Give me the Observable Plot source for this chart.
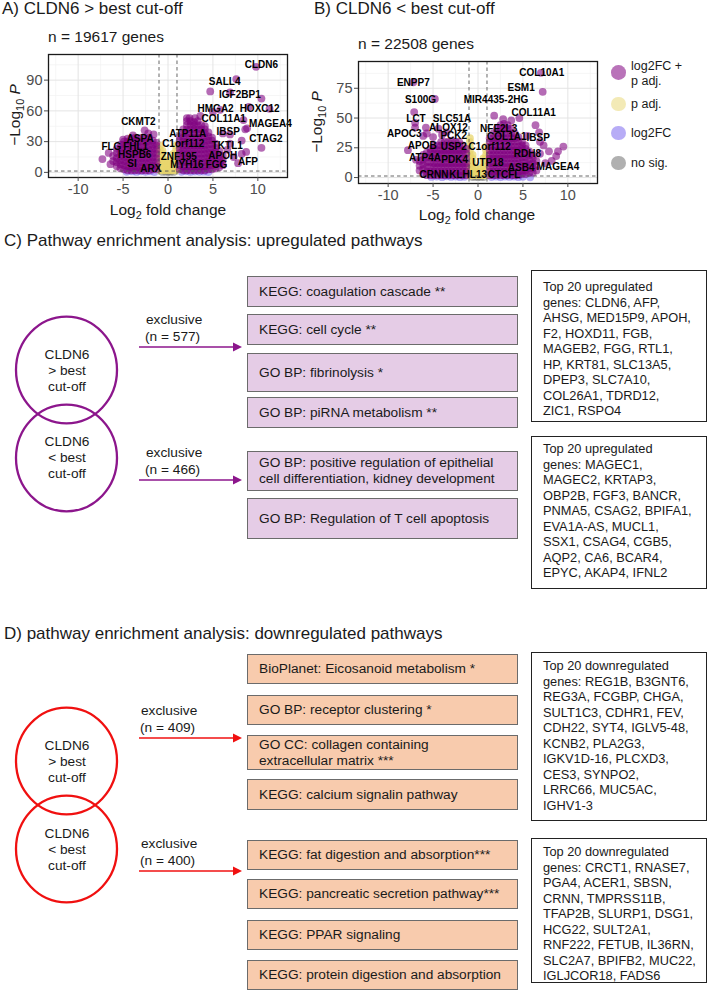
<!DOCTYPE html>
<html><head><meta charset="utf-8">
<script src="https://cdn.jsdelivr.net/npm/d3@7"></script>
<script src="https://cdn.jsdelivr.net/npm/@observablehq/plot@0.6"></script>
<style>
body{margin:0;background:#fff;font-family:"Liberation Sans",Arial,Helvetica,sans-serif;color:#222;overflow:hidden}
#root{position:relative;width:708px;height:991px;overflow:hidden}
.t{position:absolute;white-space:nowrap}
.box{position:absolute;box-sizing:border-box}
sub{font-size:70%;line-height:0}
</style></head><body><div id="root"></div>
<script>
// ---------------- DATA ----------------
const panelTitles = ["A) CLDN6 > best cut-off", "B) CLDN6 < best cut-off"];
const nGenes = ["n = 19617 genes", "n = 22508 genes"];
const xTicks = [-10, -5, 0, 5, 10];
const xMinor = [-12.5, -7.5, -2.5, 2.5, 7.5, 12.5];
const yTicksA = [0, 30, 60, 90];
const yMinorA = [15, 45, 75, 105];
const yTicksB = [0, 25, 50, 75];
const yMinorB = [12.5, 37.5, 62.5, 87.5];
const fcCutoffs = [-1, 1];
const pCutoff = [1.3];
const legendLabels = ["log2FC +<br>p adj.", "p adj.", "log2FC", "no sig."];
const legendColors = ["#800080", "#e8d56e", "#7b68ee", "#707070"];

// volcano A: columns [log2FC, [-log10 p ...]]
const sigA_cols = [
  [-6.1,[11,16]],[-5.7,[6,10,14,19,23]],[-5.3,[4,8,12,16,20,24,27]],
  [-4.9,[3,7,11,15,19,23,27,30]],[-4.5,[2,6,10,14,18,22,26,30,33]],
  [-4.1,[2,5,9,13,17,21,25,29,33]],[-3.7,[2,6,10,14,18,22,26,30,34]],
  [-3.3,[2,5,9,13,17,21,25,29,33]],[-2.9,[2,6,10,14,18,22,26,30,34]],
  [-2.5,[2,5,9,13,17,21,25,29,33]],[-2.1,[2,6,10,14,18,22,26,30,34]],
  [-1.7,[3,7,11,15,19,23,27,31]],[-1.3,[3,6,10,14,18,22,26,29]],
  [1.3,[3,7,11,15,19,23,27,31,35]],[1.7,[2,6,10,14,18,22,26,30,34,38,42]],
  [2.1,[2,6,10,14,18,22,26,30,34,38,42,46,50]],[2.5,[2,6,10,14,18,22,26,30,34,38,42,46,50]],
  [2.9,[2,6,10,14,18,22,26,30,34,38,42,46,49]],[3.3,[2,6,10,14,18,22,26,30,34,38,42,46,50]],
  [3.7,[2,6,10,14,18,22,26,30,34,38,42,46]],[4.1,[2,6,10,14,18,22,26,30,34,38,42]],
  [4.5,[3,7,11,15,19,23,27,31,35,39]],[4.9,[3,7,11,15,19,23,27,31,34]],
  [5.3,[4,8,12,16,20,24,28]],[5.7,[5,9,13,17,21]],[6.1,[7,12,16]]
];
const sigA_out = [[-7.3,13],[-6.6,19],[-6.4,8],[-2.6,41],[-3.9,36],[-1.6,37],[-5.0,32],[-2.2,38],
  [7.6,91],[4.7,79],[6.9,78],[10.4,72],[11.3,62],[9.0,64],[8.8,43],[8.6,42],[8.4,51],[10.4,24],
  [8.2,31],[8.7,20],[9.8,103],[2.4,53],[3.6,55],[5.0,59],[5.8,61],[4.1,45],[6.1,38],[6.9,37],
  [6.9,28],[8.2,18],[7.3,15],[5.8,9],[6.6,22],[7.8,9],[3.0,53],[2.1,53]];
const padjA_cols = [[-0.9,[2,6,10,14,18,22,26]],[-0.6,[2,6,10,14,18,21]],[-0.3,[2,5,9,12]],
  [0.0,[2,5,8]],[0.3,[2,5,9,12]],[0.6,[2,6,10,14,18]],[0.9,[2,6,10,14,18,22,26]]];
const fcA = [[-4.6,0.6],[-4.0,0.9],[-3.5,0.4],[-3.0,1.0],[-2.5,0.5],[-2.0,0.9],[-1.5,0.3],
  [1.5,0.5],[2.0,1.0],[2.5,0.4],[3.0,0.8],[3.5,0.5],[4.0,0.7],[4.5,0.3]];
const nsA = [[-0.6,0.4],[-0.3,0.8],[0,0.3],[0.3,0.7],[0.6,0.4],[0.1,1.1]];
const labelsA = [["CLDN6",10.4,104.6],["SALL4",6.3,88],["IGF2BP1",8.0,76],["HMGA2",5.3,62.5],
  ["HOXC12",10.2,62.5],["COL11A1",6.2,52],["MAGEA4",11.4,47],["IBSP",6.7,40],["CTAG2",10.9,33],
  ["ATP11A",2.2,38],["CKMT2",-3.3,49],["ASPA",-3.1,33],["FLG",-6.3,25],["FHL1",-3.6,25],
  ["C1orf112",1.7,28],["TKTL1",6.6,26],["HSPB6",-3.7,17.6],["ZNF195",1.2,15.6],["APOH",6.1,16.6],
  ["SI",-4.0,8.8],["ARX",-1.9,3.9],["MYH16",2.1,7.8],["FGG",5.4,7.8],["AFP",8.9,10.8]];

// volcano B
const sigB_cols = [
  [-6.5,[6,10,14]],[-6.1,[3,7,11,15,19]],[-5.7,[2,5,9,13,17,21]],[-5.3,[2,5,9,13,17,21,24]],
  [-4.9,[2,5,9,12,16,20,24,27]],[-4.5,[2,5,9,12,16,20,23,27]],[-4.1,[2,5,9,12,16,20,23,27,30]],
  [-3.7,[2,5,9,12,16,20,23,27,30]],[-3.3,[2,5,9,12,16,20,23,27,30]],[-2.9,[2,5,9,12,16,20,23,27,31]],
  [-2.5,[2,5,9,12,16,20,23,27,30]],[-2.1,[2,5,9,12,16,20,23,27,30]],[-1.7,[2,5,9,12,16,20,23,27]],
  [-1.3,[2,5,9,12,16,20,24]],
  [1.3,[2,5,9,12,16,19,23,26,30,33]],[1.7,[2,5,9,12,16,19,23,26,30,33,37]],
  [2.1,[2,5,9,12,16,19,23,26,30,33,37,41]],[2.5,[2,5,9,12,16,19,23,26,30,33,37,41,44]],
  [2.9,[2,5,9,12,16,19,23,26,30,33,37,41,45]],[3.3,[2,5,9,12,16,19,23,26,30,33,37,41,44]],
  [3.7,[2,5,9,12,16,19,23,26,30,33,37,41]],[4.1,[2,5,9,12,16,19,23,26,30,33,37]],
  [4.5,[2,5,9,12,16,19,23,26,30,34]],[4.9,[3,6,10,13,17,20,24,27,30]],
  [5.3,[3,6,10,13,17,20,24,27]],[5.7,[4,8,11,15,19,22]],[6.1,[4,8,12,16,19]],[6.5,[6,10,14]]
];
const sigB_out = [[-7.1,55],[-7.0,46],[-7.0,42],[-7.8,23],[-6.9,15],[-4.8,66],[-5.7,37],[-6.1,35],
  [-5.8,42],[-4.4,41],[-5.0,34],[-4.0,36],[-3.5,38],[-7.2,80],
  [1.8,52],[4.6,50],[6.4,44],[7.2,72],[7.0,88],[9.5,26],[7.9,22],[8.9,22],[8.7,18],[6.9,30],
  [7.5,12],[6.8,38],[5.5,35],[3.7,48],[2.8,49],[7.3,27],[8.2,14],[6.9,20]];
const padjB_cols = [[-0.9,[2,5,9,12,16,19,23,26,30,33]],[-0.6,[2,5,9,12,16,19]],[-0.3,[2,5,8]],
  [0.0,[2,4]],[0.3,[2,5,8]],[0.6,[2,5,9,12,16]],[0.9,[2,5,9,12,16,19,23,26]]];
const fcB = [[-5.2,0.5],[-4.6,0.8],[-4.0,0.3],[-3.5,1.0],[-3.0,0.5],[-2.5,0.9],[-2.0,0.3],[-1.5,0.6],
  [1.5,0.4],[2.0,0.9],[2.5,0.3],[3.0,0.8],[3.5,0.5],[4.0,0.9],[4.5,0.3],[5.0,0.6],[5.8,0.2]];
const nsB = [[-0.6,0.4],[-0.3,0.8],[0,0.3],[0.3,0.7],[0.6,0.4]];
const labelsB = [["ENPP7",-7.2,80],["S100G",-6.4,65],["LCT",-6.9,49],["SLC51A",-2.9,49],
  ["ALOX12",-3.3,42],["APOC3",-8.2,37],["PCK2",-2.7,35],["APOB",-6.2,27],["USP2",-2.7,26],
  ["ATP4A",-5.9,17],["PDK4",-2.6,15],["CRNN",-4.9,2.5],["KLHL13",-1.1,2.5],
  ["COL10A1",7.1,88],["ESM1",4.8,75],["MIR4435-2HG",2.0,65.5],["COL11A1",6.2,54],
  ["NFE2L3",2.3,41],["COL1A1",3.2,34.5],["IBSP",6.7,33],["C1orf112",1.3,25.5],["RDH8",5.5,20],
  ["UTP18",1.1,12.6],["ASB4",4.8,8.4],["MAGEA4",8.9,9.2],["CTCFL",2.9,2.5]];

// diagrams
const sectionTitles = ["C) Pathway enrichment analysis: upregulated pathways",
                       "D) pathway enrichment analysis: downregulated pathways"];
const groupText = [["CLDN6","&gt; best","cut-off"],["CLDN6","&lt; best","cut-off"]];
const exclusiveUp = [577, 466];
const exclusiveDown = [409, 400];
const upPathHigh = ["KEGG: coagulation cascade **","KEGG: cell cycle **","GO BP: fibrinolysis *","GO BP: piRNA metabolism **"];
const upPathLow = ["GO BP: positive regulation of epithelial<br>cell differentiation, kidney development","GO BP: Regulation of T cell apoptosis"];
const downPathHigh = ["BioPlanet: Eicosanoid metabolism *","GO BP: receptor clustering *","GO CC: collagen containing<br>extracellular matrix ***","KEGG: calcium signalin pathway"];
const downPathLow = ["KEGG: fat digestion and absorption***","KEGG: pancreatic secretion pathway***","KEGG: PPAR signaling","KEGG: protein digestion and absorption"];
const upGenesHigh = ["Top 20 upregulated","genes: CLDN6, AFP,","AHSG, MED15P9, APOH,","F2, HOXD11, FGB,","MAGEB2, FGG, RTL1,","HP, KRT81, SLC13A5,","DPEP3, SLC7A10,","COL26A1, TDRD12,","ZIC1, RSPO4"];
const upGenesLow = ["Top 20 upregulated","genes: MAGEC1,","MAGEC2, KRTAP3,","OBP2B, FGF3, BANCR,","PNMA5, CSAG2, BPIFA1,","EVA1A-AS, MUCL1,","SSX1, CSAG4, CGB5,","AQP2, CA6, BCAR4,","EPYC, AKAP4, IFNL2"];
const downGenesHigh = ["Top 20 downregulated","genes: REG1B, B3GNT6,","REG3A, FCGBP, CHGA,","SULT1C3, CDHR1, FEV,","CDH22, SYT4, IGLV5-48,","KCNB2, PLA2G3,","IGKV1D-16, PLCXD3,","CES3, SYNPO2,","LRRC66, MUC5AC,","IGHV1-3"];
const downGenesLow = ["Top 20 downregulated","genes: CRCT1, RNASE7,","PGA4, ACER1, SBSN,","CRNN, TMPRSS11B,","TFAP2B, SLURP1, DSG1,","HCG22, SULT2A1,","RNF222, FETUB, IL36RN,","SLC2A7, BPIFB2, MUC22,","IGLJCOR18, FADS6"];

// ---------------- HELPERS ----------------
const FONT = '"Liberation Sans", Arial, Helvetica, sans-serif';
const root = document.getElementById("root");
const cols = c => c.flatMap(([x, ys]) => ys.map(y => ({x, y})));
const pairs = p => p.map(([x, y]) => ({x, y}));
const labs = l => l.map(([gene, x, y]) => ({gene, x, y}));

function txt(x, yc, html, size, opt = {}) {
  const d = document.createElement("div");
  d.className = "t";
  const lh = opt.lh || size;
  d.style.left = x + "px";
  d.style.top = (yc - lh / 2) + "px";
  d.style.fontSize = size + "px";
  d.style.lineHeight = lh + "px";
  d.style.color = opt.color || "#1a1a1a";
  if (opt.center) { d.style.transform = "translateX(-50%)"; d.style.textAlign = "center"; }
  if (opt.rotate) { d.style.top = yc + "px"; d.style.transform = "translate(-50%,-50%) rotate(-90deg)"; }
  d.innerHTML = html;
  root.appendChild(d);
  return d;
}
function box(x0, y0, x1, y1, style) {
  const d = document.createElement("div");
  d.className = "box";
  Object.assign(d.style, {left: x0 + "px", top: y0 + "px", width: (x1 - x0) + "px", height: (y1 - y0) + "px"}, style);
  root.appendChild(d);
  return d;
}

// ---------------- VOLCANO PLOTS ----------------
function volcano(o) {
  const dotOpt = (fill, op) => ({x: "x", y: "y", r: 3.9, fill, fillOpacity: op, stroke: "none"});
  const svg = Plot.plot({
    width: 300, height: 185,
    marginLeft: 48, marginRight: 13, marginTop: o.mt, marginBottom: o.mb,
    style: {fontFamily: FONT, overflow: "visible", background: "transparent"},
    x: {domain: [-13.3, 13.3]},
    y: {domain: o.ydom},
    marks: [
      Plot.gridX(xMinor, {stroke: "#f2f2f2", strokeOpacity: 1, strokeWidth: 0.7}),
      Plot.gridY(o.yMinor, {stroke: "#f2f2f2", strokeOpacity: 1, strokeWidth: 0.7}),
      Plot.gridX(xTicks, {stroke: "#e4e4e4", strokeOpacity: 1, strokeWidth: 1}),
      Plot.gridY(o.yTicks, {stroke: "#e4e4e4", strokeOpacity: 1, strokeWidth: 1}),
      Plot.dot(pairs(o.ns), dotOpt(legendColors[3], 0.55)),
      Plot.dot(pairs(o.fc), dotOpt(legendColors[2], 0.55)),
      Plot.dot(cols(o.padj), dotOpt(legendColors[1], 0.75)),
      Plot.dot(cols(o.sig).concat(pairs(o.sigOut)), dotOpt(legendColors[0], 0.58)),
      Plot.ruleX(fcCutoffs, {stroke: "#555", strokeDasharray: "3.5,3", strokeWidth: 0.9}),
      Plot.ruleY(pCutoff, {stroke: "#555", strokeDasharray: "3.5,3", strokeWidth: 0.9}),
      Plot.text(labs(o.labels), {x: "x", y: "y", text: "gene", fontWeight: "bold", fontSize: 10, fill: "#000", fontFamily: FONT}),
      Plot.frame({stroke: "#1a1a1a", strokeWidth: 1.3}),
      Plot.axisX(xTicks, {tickFormat: d => String(d), fontSize: 14.5, tickSize: 4, tickPadding: 2, color: "#4d4d4d", label: null}),
      Plot.axisY(o.yTicks, {tickFormat: d => String(d), fontSize: 14.5, tickSize: 4, tickPadding: 2, color: "#4d4d4d", label: null})
    ]
  });
  const wrap = document.createElement("div");
  wrap.style.position = "absolute";
  wrap.style.left = o.left + "px";
  wrap.style.top = o.top + "px";
  wrap.appendChild(svg);
  root.appendChild(wrap);
}

volcano({left: 0, top: 40, mt: 14, mb: 48, ydom: [-5, 115], yTicks: yTicksA, yMinor: yMinorA,
  sig: sigA_cols, sigOut: sigA_out, padj: padjA_cols, fc: fcA, ns: nsA, labels: labelsA});
volcano({left: 310, top: 45, mt: 16, mb: 47, ydom: [-5, 97.5], yTicks: yTicksB, yMinor: yMinorB,
  sig: sigB_cols, sigOut: sigB_out, padj: padjB_cols, fc: fcB, ns: nsB, labels: labelsB});

txt(2, 8, panelTitles[0], 17);
txt(314, 8, panelTitles[1], 17);
txt(48, 37, nGenes[0], 15.5);
txt(358, 43.5, nGenes[1], 15.5);
txt(168, 210, "Log<sub>2</sub> fold change", 15.5, {center: true});
txt(477, 215, "Log<sub>2</sub> fold change", 15.5, {center: true});
txt(15, 115, "&minus;Log<sub>10</sub> <i>P</i>", 15.5, {rotate: true});
txt(317, 122, "&minus;Log<sub>10</sub> <i>P</i>", 15.5, {rotate: true});

// legend
[72.7, 104, 133, 163].forEach((cy, i) => {
  box(618.7 - 7.3, cy - 7.3, 618.7 + 7.3, cy + 7.3, {borderRadius: "50%", background: legendColors[i], opacity: i === 1 ? 0.5 : 0.55});
});
txt(631, 74.2, legendLabels[0], 12.5, {lh: 30});
txt(631, 104, legendLabels[1], 12.5);
txt(631, 133, legendLabels[2], 12.5);
txt(631, 163, legendLabels[3], 12.5);
// two-line label: fix its line height
root.lastChild.previousSibling.previousSibling.previousSibling.style.lineHeight = "15px";

// ---------------- DIAGRAMS ----------------
const PURPLE = "#8c168c", RED = "#f01010";
const FILL_UP = "#e5cce6", FILL_DOWN = "#f8cbad";
const ov = d3.select(root).append("svg").attr("width", 708).attr("height", 991)
  .style("position", "absolute").style("left", 0).style("top", 0).style("pointer-events", "none");

function section(o) {
  txt(4, o.titleY, o.title, 17);
  o.circleY.forEach((cy, i) => {
    ov.append("ellipse").attr("cx", 66.5).attr("cy", cy).attr("rx", 50.5).attr("ry", 53.3)
      .attr("fill", "none").attr("stroke", o.color).attr("stroke-width", 2.3);
    groupText[i].forEach((s, k) => txt(67, o.circleTextY[i] + k * 16, s, 13.7, {center: true}));
  });
  o.arrowY.forEach((y, i) => {
    ov.append("line").attr("x1", 139).attr("x2", 234).attr("y1", y).attr("y2", y)
      .attr("stroke", o.color).attr("stroke-width", 1.3);
    ov.append("path").attr("d", `M233,${y - 4.5}L242,${y}L233,${y + 4.5}Z`).attr("fill", o.color);
    txt(o.exX, y - 27, "exclusive", 13.7);
    txt(o.exX - 1, y - 10.5, `(n = ${o.n[i]})`, 13.7);
  });
  o.paths.forEach((label, i) => {
    const [y0, y1] = o.pathY[i];
    const b = box(247, y0, 518, y1, {background: o.fill, border: "1.4px solid #6b6b6b",
      display: "flex", alignItems: "center", paddingLeft: "11px", fontSize: "13.7px", lineHeight: "16px", color: "#1a1a1a"});
    b.innerHTML = label;
  });
  o.genes.forEach((lines, i) => {
    const [y0, y1, first] = o.geneY[i];
    box(531, y0, 707, y1, {background: "#fff", border: "1.4px solid #222"});
    const d = txt(543, first, lines.join("<br>"), 12.8, {lh: 15.5});
    d.style.top = (first - 7.75) + "px";
  });
}

section({
  title: sectionTitles[0], titleY: 240, color: PURPLE, fill: FILL_UP,
  circleY: [370, 458], circleTextY: [355, 442], arrowY: [347, 480], exX: 146, n: exclusiveUp,
  paths: upPathHigh.concat(upPathLow),
  pathY: [[276,307],[314,345],[353,392],[397,428],[451,491],[498,539]],
  genes: [upGenesHigh, upGenesLow],
  geneY: [[270, 422, 287], [436, 589, 449]]
});
section({
  title: sectionTitles[1], titleY: 633, color: RED, fill: FILL_DOWN,
  circleY: [761, 849], circleTextY: [746, 834], arrowY: [738, 871], exX: 141, n: exclusiveDown,
  paths: downPathHigh.concat(downPathLow),
  pathY: [[654,684],[695,725],[735,770],[779,810],[840,870],[879,909],[920,950],[960,990]],
  genes: [downGenesHigh, downGenesLow],
  geneY: [[652, 821, 666], [838, 983, 852]]
});
</script></body></html>
